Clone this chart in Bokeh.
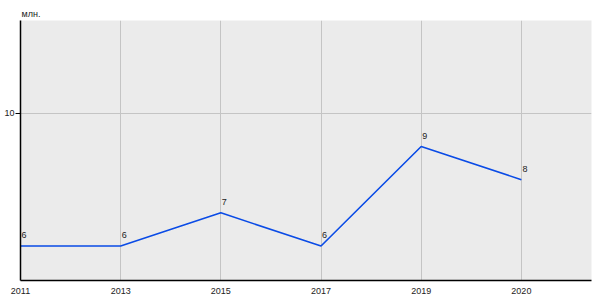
from bokeh.plotting import figure
from bokeh.models import Range1d, FixedTicker, ColumnDataSource
from bokeh.core.properties import value
from bokeh.embed import file_html
from bokeh.resources import INLINE

years = ["2011", "2013", "2015", "2017", "2019", "2020"]
values = [6, 6, 7, 6, 9, 8]
labels = ["6", "6", "7", "6", "9", "8"]
y_ticks = [10]

xs = list(range(len(years)))
src = ColumnDataSource(dict(x=xs, y=values, t=labels))

p = figure(width=600, height=300, output_backend="svg", toolbar_location=None,
           x_range=Range1d(0, 5.7), y_range=Range1d(4.96, 12.8),
           min_border_left=20, min_border_right=9, min_border_top=20, min_border_bottom=20,
           title="млн.")
p.title.text_font = "Liberation Sans"
p.title.text_font_size = "9px"
p.title.text_font_style = "normal"
p.title.text_color = "#222222"
p.title.offset = 1
p.title.standoff = 3

p.background_fill_color = "#EBEBEB"
p.border_fill_color = "white"
p.outline_line_color = None

p.line("x", "y", source=src, line_color="#0A4BE6", line_width=1.6)
p.text("x", "y", text="t", source=src, x_offset=1, y_offset=-8,
       text_font=value("Liberation Sans"), text_font_size="9px",
       text_baseline="bottom", text_align="left", text_color="#222222")

p.xaxis.ticker = FixedTicker(ticks=xs)
p.xaxis.major_label_overrides = {i: y for i, y in enumerate(years)}
p.xaxis.major_label_text_align = "left"
p.xaxis.major_tick_line_color = None
p.xaxis.minor_tick_line_color = None
p.xaxis.axis_line_color = "black"
p.xaxis.axis_line_width = 1.5
p.xaxis.major_label_standoff = 1
p.xaxis.major_label_text_font = "Liberation Sans"
p.xaxis.major_label_text_font_size = "9px"
p.xaxis.major_label_text_color = "#222222"

p.yaxis.ticker = FixedTicker(ticks=y_ticks)
p.yaxis.major_tick_out = 5
p.yaxis.major_tick_in = 0
p.yaxis.minor_tick_line_color = None
p.yaxis.axis_line_color = "black"
p.yaxis.axis_line_width = 1.5
p.yaxis.major_label_standoff = 1
p.yaxis.major_label_text_font = "Liberation Sans"
p.yaxis.major_label_text_font_size = "9px"
p.yaxis.major_label_text_color = "#222222"

p.xgrid.ticker = FixedTicker(ticks=xs)
p.grid.grid_line_color = "#C4C4C4"
p.grid.grid_line_width = 1

open("out.html", "w").write(file_html(p, INLINE))
